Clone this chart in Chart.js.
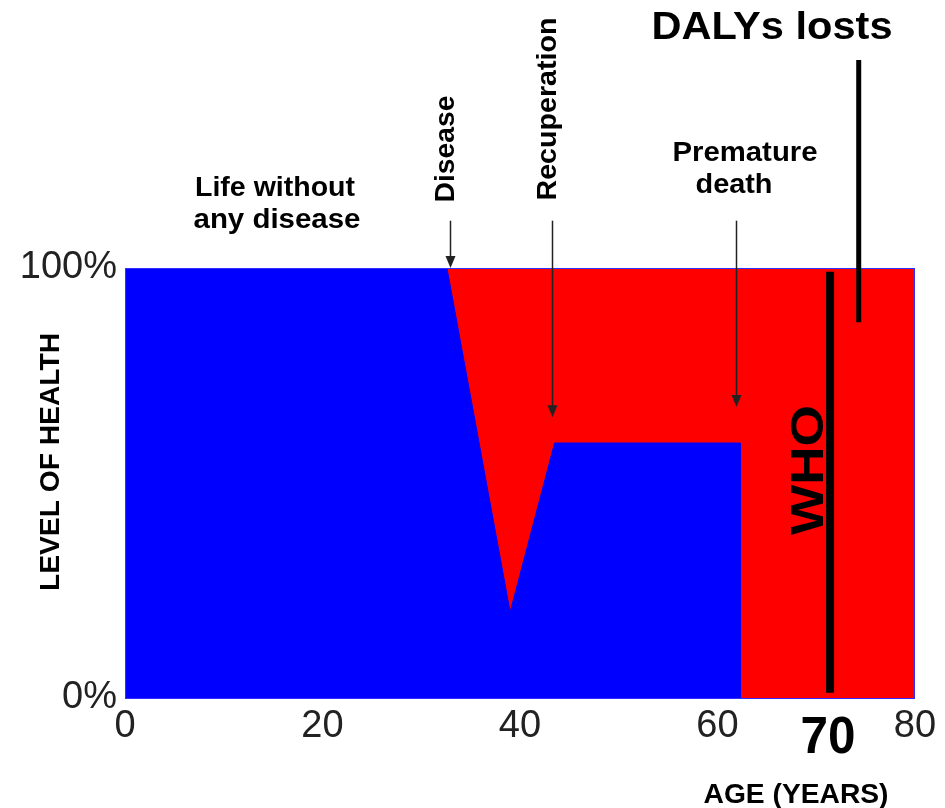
<!DOCTYPE html>
<html>
<head>
<meta charset="utf-8">
<script src="https://cdn.jsdelivr.net/npm/chart.js@4/dist/chart.umd.min.js"></script>
<style>
  html, body { margin: 0; padding: 0; background: #fff; }
  #wrap { width: 945px; height: 808px; }
</style>
</head>
<body>
<div id="wrap"><canvas id="daly"></canvas></div>
<script>
// values (age in years, level of health in %)
var healthAge   = [0, 32.6, 39.0, 43.5, 62.3, 62.3];
var healthLevel = [100, 100, 20, 59.3, 59.3, 0];
var lostAge     = [0, 80];
var lostLevel   = [100, 100];

var ageTicks    = [0, 20, 40, 60, 80];
var levelTicks  = [0, 100];

var eventNames  = ['Disease', 'Recuperation', 'Premature death'];
var eventAges   = [32.9, 43.2, 61.9];
var eventLevels = [100, 65.3, 67.7];

var whoAge = 71.4;      // WHO reference line, labelled 70
var whoLabel = '70';
var dalyAge = 74.3;     // pointer for "DALYs losts"

var FONT = '"Liberation Sans", Arial, sans-serif';

function toPoints(xs, ys) {
  return xs.map(function (x, i) { return { x: x, y: ys[i] }; });
}

// draw text centred at (cx, cy), squeezed/stretched to a given length
function fitText(ctx, text, cx, cy, len, size, rot) {
  ctx.save();
  ctx.font = 'bold ' + size + 'px ' + FONT;
  var w = ctx.measureText(text).width;
  ctx.translate(cx, cy);
  ctx.rotate(rot || 0);
  ctx.scale(len / w, 1);
  ctx.textAlign = 'center';
  ctx.textBaseline = 'middle';
  ctx.fillStyle = '#000';
  ctx.fillText(text, 0, 0);
  ctx.restore();
}

function arrow(ctx, x, y0, y1) {
  ctx.save();
  ctx.strokeStyle = '#222';
  ctx.fillStyle = '#222';
  ctx.lineWidth = 1.5;
  ctx.beginPath();
  ctx.moveTo(x, y0);
  ctx.lineTo(x, y1 - 8);
  ctx.stroke();
  ctx.beginPath();
  ctx.moveTo(x - 5, y1 - 12);
  ctx.lineTo(x + 5, y1 - 12);
  ctx.lineTo(x, y1);
  ctx.closePath();
  ctx.fill();
  ctx.restore();
}

var notes = {
  id: 'notes',
  afterDatasetsDraw: function (chart) {
    var ctx = chart.ctx;
    var xs = chart.scales.x, ys = chart.scales.y;
    var a = chart.chartArea;

    // plot frame
    ctx.save();
    ctx.strokeStyle = '#3030ff';
    ctx.lineWidth = 1;
    ctx.strokeRect(a.left + 0.5, a.top + 0.5, a.right - a.left - 1, a.bottom - a.top);
    ctx.restore();

    // arrows to events
    for (var i = 0; i < eventAges.length; i++) {
      arrow(ctx, Math.round(xs.getPixelForValue(eventAges[i])) + 0.5,
        ys.getPixelForValue(111), ys.getPixelForValue(eventLevels[i]));
    }

    // WHO line
    var wx = xs.getPixelForValue(whoAge);
    ctx.save();
    ctx.strokeStyle = '#000';
    ctx.lineWidth = 8;
    ctx.beginPath();
    ctx.moveTo(wx, ys.getPixelForValue(99.1));
    ctx.lineTo(wx, ys.getPixelForValue(1.2));
    ctx.stroke();
    // DALYs pointer
    var dx = xs.getPixelForValue(dalyAge);
    ctx.lineWidth = 5;
    ctx.beginPath();
    ctx.moveTo(dx, 60);
    ctx.lineTo(dx, ys.getPixelForValue(87.4));
    ctx.stroke();
    ctx.restore();

    // labels
    fitText(ctx, 'DALYs losts', 772, 29, 241, 38);
    fitText(ctx, 'Life without', 275, 188, 160, 28);
    fitText(ctx, 'any disease', 277, 220, 167, 28);
    fitText(ctx, eventNames[0], 446, 149, 107, 28, -Math.PI / 2);
    fitText(ctx, eventNames[1], 548, 109, 183, 28, -Math.PI / 2);
    var pd = eventNames[2].split(' ');
    fitText(ctx, pd[0], 745, 153, 145, 28);
    fitText(ctx, pd[1], 734, 185, 77, 28);
    fitText(ctx, 'WHO', 810, 470, 130, 46, -Math.PI / 2);
    fitText(ctx, whoLabel, wx - 2, 739, 55, 52);
    fitText(ctx, 'AGE (YEARS)', 796, 795, 185, 28);
    fitText(ctx, 'LEVEL OF HEALTH', 51, 462, 258, 28, -Math.PI / 2);
  }
};

var ctx = document.getElementById('daly').getContext('2d');
var chart = new Chart(ctx, {
  type: 'line',
  data: {
    datasets: [{
      label: 'Level of health',
      data: toPoints(healthAge, healthLevel),
      backgroundColor: '#0000ff',
      borderColor: '#0000ff',
      borderWidth: 1,
      pointRadius: 0,
      tension: 0,
      fill: 'origin'
    }, {
      label: 'Health lost',
      data: toPoints(lostAge, lostLevel),
      backgroundColor: '#ff0000',
      borderColor: '#ff0000',
      borderWidth: 1,
      pointRadius: 0,
      fill: 'origin'
    }]
  },
  options: {
    responsive: true,
    maintainAspectRatio: false,
    animation: false,
    layout: { padding: { top: 268, right: 30, bottom: 0, left: 0 } },
    plugins: {
      legend: { display: false },
      tooltip: { enabled: false }
    },
    scales: {
      x: {
        type: 'linear',
        min: 0,
        max: 80,
        afterBuildTicks: function (s) { s.ticks = ageTicks.map(function (v) { return { value: v }; }); },
        afterFit: function (s) { s.height = 110; },
        grid: { display: false, drawTicks: false },
        border: { display: false },
        ticks: {
          padding: 6,
          color: '#222',
          font: { family: FONT, size: 38 }
        }
      },
      y: {
        min: 0,
        max: 100,
        afterBuildTicks: function (s) { s.ticks = levelTicks.map(function (v) { return { value: v }; }); },
        afterFit: function (s) { s.width = 125; },
        grid: { display: false, drawTicks: false },
        border: { display: false },
        ticks: {
          padding: 8,
          color: '#222',
          font: { family: FONT, size: 38 },
          callback: function (v) { return v + '%'; }
        }
      }
    }
  },
  plugins: [notes]
});
</script>
</body>
</html>
